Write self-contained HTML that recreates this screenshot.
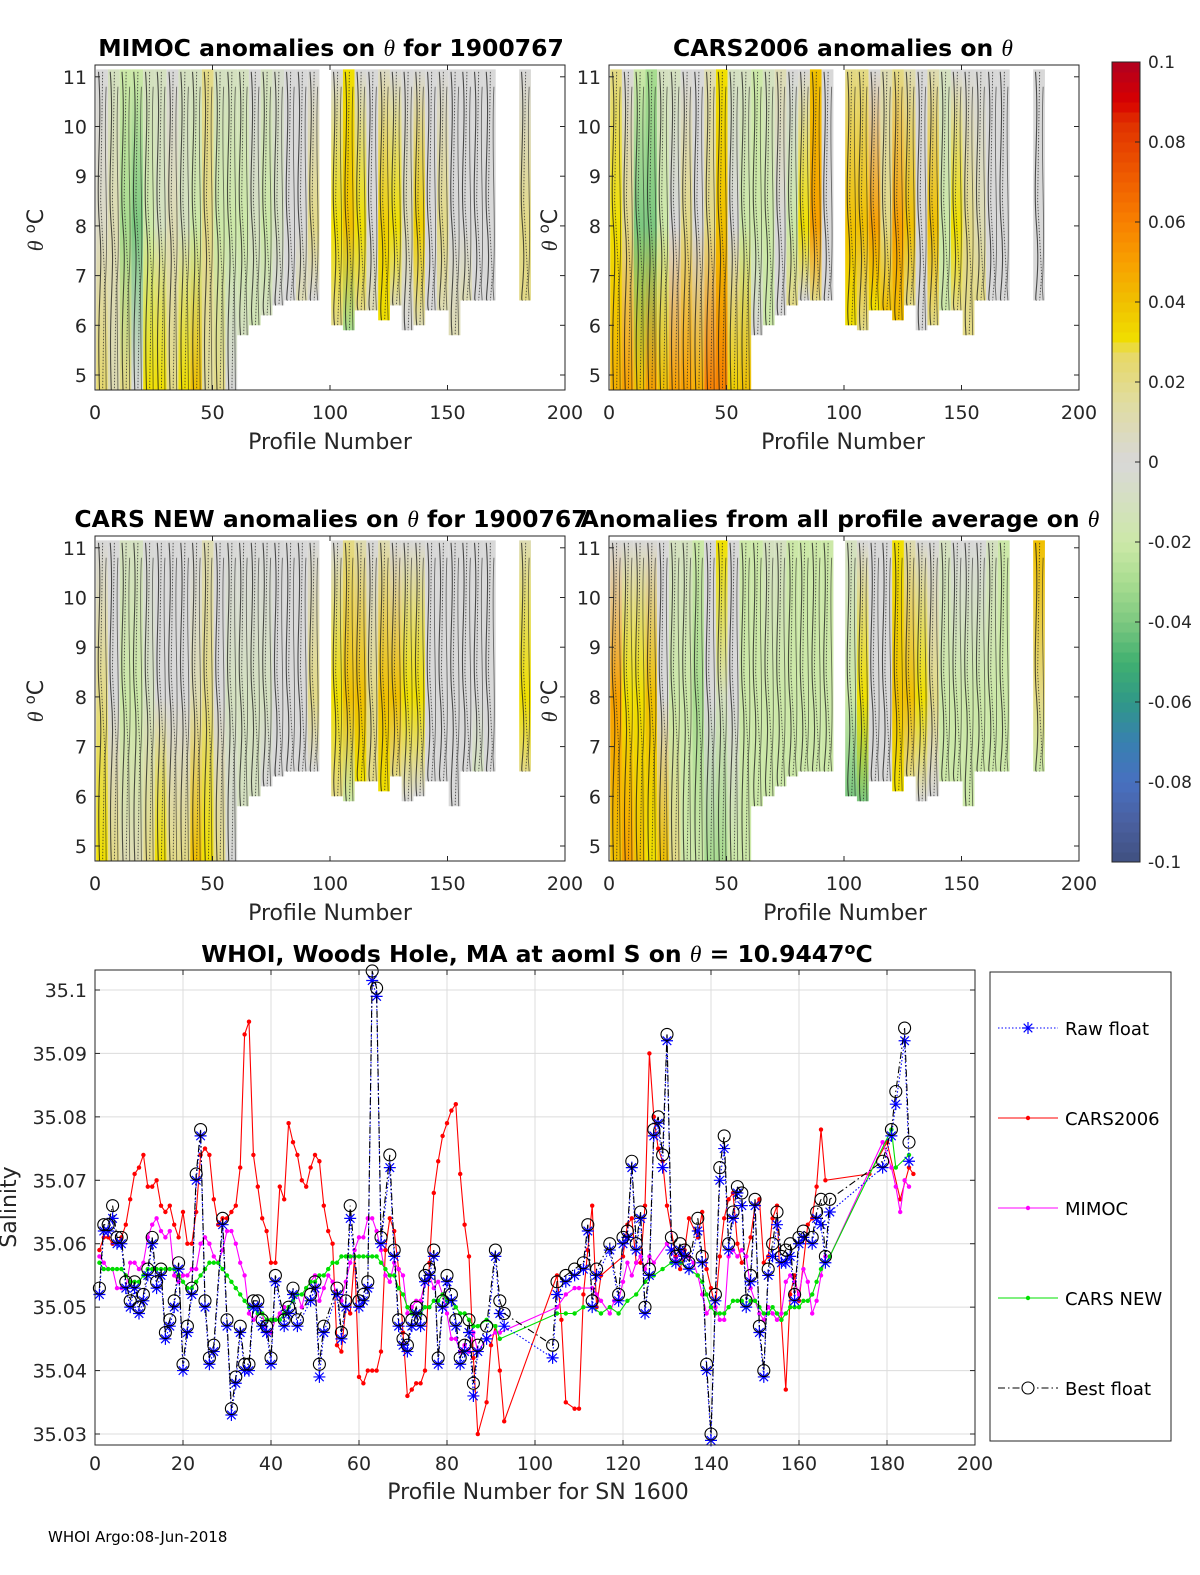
<!DOCTYPE html>
<html><head><meta charset="utf-8"><style>
html,body{margin:0;padding:0;background:#fff;}
svg{display:block;font-family:"DejaVu Sans","Liberation Sans",sans-serif;}
</style></head><body>
<svg id="fig" width="1200" height="1575" viewBox="0 0 1200 1575" xmlns="http://www.w3.org/2000/svg">
<rect width="1200" height="1575" fill="#fff"/>
<g id="panels"></g>
<g id="cbar"></g>
<g id="bottom"></g>
<text x="48" y="1542" font-size="15" fill="#000">WHOI Argo:08-Jun-2018</text>
</svg>
<script>
// ---------- heatmap data (bins of 5 profiles; null = no data) ----------
const binBottom = [4.7,4.7,4.7,4.7,4.7,4.7,4.7,4.7,4.7,4.7,4.7,4.7,5.8,6.0,6.2,6.4,6.5,6.5,6.5,null,6.0,5.9,6.3,6.3,6.1,6.4,5.9,6.0,6.3,6.3,5.8,6.5,6.5,6.5,null,null,6.5,null];
const mimocLow  = [0.025,0.01,0.02,0.0,0.03,0.03,0.02,0.03,0.04,0.015,0.02,0.0,-0.01,-0.015,-0.01,0.0,0.0,0.01,0.0,null,0.02,-0.03,0.02,0.01,0.03,0.01,0.0,0.01,0.0,0.01,0.01,0.01,0.0,0.0,null,null,0.02,null];
const mimocMid  = [0.005,0.01,-0.03,-0.04,-0.02,-0.01,0.01,-0.01,-0.02,0.02,-0.02,-0.02,-0.02,-0.01,-0.02,-0.01,0.0,0.0,0.02,null,0.03,0.04,0.03,0.0,0.035,0.03,0.01,0.035,0.0,0.02,0.0,0.0,0.0,0.0,null,null,0.02,null];
const mimocHigh = [0.0,-0.01,-0.02,-0.02,-0.01,-0.01,0.0,-0.01,-0.01,0.02,-0.01,-0.01,-0.01,0.0,-0.01,-0.005,0.0,0.0,0.0,null,0.0,0.03,0.0,0.0,0.005,0.0,0.0,0.0,0.0,0.0,0.0,0.0,0.0,0.0,null,null,0.0,null];
const carsLow  = [0.045,0.05,0.04,0.05,0.04,0.05,0.05,0.045,0.06,0.06,0.035,0.04,0.0,-0.02,0.0,0.02,0.0,0.02,0.0,null,0.03,0.02,0.03,0.04,0.04,0.02,0.0,0.02,-0.02,0.02,0.02,0.02,0.0,0.0,null,null,0.0,null];
const carsMid  = [0.03,0.02,-0.04,-0.04,-0.02,0.0,0.02,0.0,0.02,0.04,0.0,-0.02,-0.02,-0.02,0.0,-0.02,0.03,0.05,0.0,null,0.04,0.04,0.05,0.02,0.05,0.04,0.0,0.04,-0.02,0.03,0.02,0.01,0.0,0.0,null,null,0.0,null];
const carsHigh = [0.02,0.0,-0.02,-0.03,-0.01,-0.01,0.0,0.0,0.01,0.03,-0.01,-0.01,-0.02,-0.01,0.01,0.0,0.0,0.04,0.0,null,0.02,0.02,0.0,0.01,0.02,0.01,0.0,0.01,-0.01,0.0,0.0,0.0,0.0,0.0,null,null,0.0,null];
const newLow  = [0.03,0.02,0.01,0.01,0.02,0.03,0.02,0.02,0.04,0.03,0.02,0.0,-0.01,-0.01,0.0,0.0,0.0,0.0,0.0,null,0.02,-0.02,0.03,0.02,0.03,0.02,0.0,0.0,0.0,0.0,0.0,0.0,-0.01,0.0,null,null,0.02,null];
const newMid  = [0.02,0.0,-0.02,-0.02,-0.01,0.0,0.0,0.0,0.01,0.02,0.0,-0.01,-0.01,-0.01,-0.01,0.0,0.0,0.0,0.02,null,0.03,0.04,0.04,0.02,0.04,0.04,0.03,0.03,0.0,0.0,0.0,0.0,0.0,0.0,null,null,0.03,null];
const newHigh = [0.0,0.0,-0.01,-0.01,0.0,0.0,0.0,0.0,0.0,0.01,0.0,0.0,0.0,0.0,0.0,0.0,0.0,0.0,0.0,null,0.0,0.02,0.01,0.0,0.01,0.0,0.0,0.0,0.0,0.0,0.0,0.0,0.0,0.0,null,null,0.01,null];
const avgLow  = [0.04,0.05,0.04,0.03,0.04,0.02,-0.02,-0.02,-0.03,-0.03,-0.02,-0.02,-0.02,-0.02,-0.02,-0.02,-0.02,-0.02,-0.02,null,-0.04,-0.04,0.0,0.0,0.03,0.02,0.0,0.0,-0.02,-0.02,-0.02,-0.02,-0.02,-0.02,null,null,-0.02,null];
const avgMid  = [0.05,0.03,0.03,0.04,0.0,-0.02,-0.02,-0.03,0.0,-0.01,0.0,-0.02,-0.02,-0.02,-0.02,-0.02,-0.02,-0.02,-0.02,null,-0.02,0.03,0.0,0.0,0.04,0.04,0.03,0.02,-0.02,-0.02,-0.02,-0.02,-0.02,-0.02,null,null,0.02,null];
const avgHigh = [0.0,0.0,0.0,0.0,0.0,-0.01,-0.01,-0.02,0.0,0.03,0.0,-0.02,-0.02,-0.01,-0.01,-0.02,-0.02,-0.02,-0.02,null,-0.01,0.0,0.0,0.0,0.03,0.01,0.0,0.0,-0.01,0.0,0.0,0.0,-0.01,-0.02,null,null,0.04,null];
const profTicks = [0,50,100,150,200];
const thetaTicks = [5,6,7,8,9,10,11];
const cbarTicks = [0.1,0.08,0.06,0.04,0.02,0,-0.02,-0.04,-0.06,-0.08,-0.1];

// ---------- salinity data ----------
const rawP = [1,2,3,4,5,6,7,8,9,10,11,12,13,14,15,16,17,18,19,20,21,22,23,24,25,26,27,29,30,31,32,33,34,35,36,37,38,39,40,41,43,44,45,46,49,50,51,52,55,56,57,58,60,61,62,63,64,65,67,68,69,70,71,72,73,74,75,76,77,78,79,80,81,82,83,84,85,86,87,89,91,92,93,104,105,107,109,111,112,113,114,117,119,120,121,122,123,124,125,126,127,128,129,130,131,132,133,134,135,137,138,139,140,141,142,143,144,145,146,147,148,149,150,151,152,153,154,155,156,157,158,159,160,161,163,164,165,166,167,179,181,182,184,185];
const rawV = [35.052,35.062,35.062,35.064,35.060,35.060,35.053,35.050,35.053,35.049,35.051,35.055,35.060,35.053,35.055,35.045,35.047,35.050,35.056,35.040,35.046,35.052,35.070,35.077,35.050,35.041,35.043,35.063,35.047,35.033,35.038,35.046,35.040,35.040,35.050,35.050,35.047,35.046,35.041,35.054,35.047,35.049,35.052,35.047,35.051,35.053,35.039,35.046,35.052,35.045,35.050,35.064,35.050,35.051,35.053,35.1015,35.099,35.060,35.072,35.058,35.047,35.044,35.043,35.047,35.049,35.047,35.054,35.055,35.058,35.041,35.050,35.054,35.051,35.047,35.041,35.043,35.046,35.036,35.043,35.045,35.058,35.049,35.047,35.042,35.052,35.054,35.055,35.056,35.062,35.050,35.055,35.059,35.051,35.060,35.061,35.072,35.059,35.064,35.049,35.055,35.077,35.079,35.072,35.092,35.059,35.057,35.059,35.058,35.056,35.062,35.057,35.040,35.029,35.051,35.070,35.075,35.059,35.064,35.068,35.066,35.050,35.054,35.066,35.046,35.039,35.055,35.058,35.063,35.057,35.057,35.058,35.051,35.060,35.061,35.060,35.064,35.063,35.057,35.065,35.072,35.077,35.082,35.092,35.073];
const bestV = [35.053,35.063,35.063,35.066,35.061,35.061,35.054,35.051,35.054,35.050,35.052,35.056,35.061,35.054,35.056,35.046,35.048,35.051,35.057,35.041,35.047,35.053,35.071,35.078,35.051,35.042,35.044,35.064,35.048,35.034,35.039,35.047,35.041,35.041,35.051,35.051,35.048,35.047,35.042,35.055,35.048,35.050,35.053,35.048,35.052,35.054,35.041,35.047,35.053,35.046,35.051,35.066,35.051,35.052,35.054,35.103,35.1003,35.061,35.074,35.059,35.048,35.045,35.044,35.048,35.050,35.048,35.055,35.056,35.059,35.042,35.051,35.055,35.052,35.048,35.042,35.044,35.048,35.038,35.044,35.047,35.059,35.051,35.049,35.044,35.054,35.055,35.056,35.057,35.063,35.051,35.056,35.060,35.052,35.061,35.062,35.073,35.060,35.065,35.050,35.056,35.078,35.080,35.074,35.093,35.061,35.058,35.060,35.059,35.057,35.064,35.058,35.041,35.030,35.052,35.072,35.077,35.060,35.065,35.069,35.068,35.051,35.055,35.067,35.047,35.040,35.056,35.060,35.065,35.058,35.059,35.060,35.052,35.061,35.062,35.061,35.065,35.067,35.058,35.067,35.073,35.078,35.084,35.094,35.076];
const carsP = [1,2,3,4,5,6,7,8,9,10,11,12,13,14,15,16,17,18,19,20,21,22,23,24,25,26,27,28,29,30,31,32,33,34,35,36,37,38,39,40,41,42,43,44,45,46,47,48,49,50,51,52,53,54,55,56,57,58,59,60,61,62,63,64,65,66,67,68,69,70,71,72,73,74,75,76,77,78,79,80,81,82,83,84,85,86,87,89,90,91,92,93,105,106,107,109,110,111,112,113,114,115,120,121,122,123,124,125,126,127,128,129,130,132,133,134,135,137,138,139,140,141,142,143,144,145,146,147,148,149,150,151,152,153,154,155,156,157,158,159,160,162,163,164,165,166,176,180,183,185,186];
const carsV = [35.059,35.061,35.061,35.060,35.060,35.061,35.063,35.067,35.071,35.072,35.074,35.069,35.069,35.070,35.066,35.065,35.066,35.063,35.061,35.065,35.060,35.060,35.065,35.074,35.075,35.074,35.067,35.063,35.064,35.064,35.065,35.066,35.072,35.093,35.095,35.074,35.069,35.064,35.062,35.057,35.057,35.069,35.067,35.079,35.076,35.074,35.070,35.069,35.072,35.074,35.073,35.066,35.062,35.060,35.044,35.043,35.050,35.049,35.058,35.039,35.038,35.040,35.040,35.040,35.043,35.059,35.064,35.062,35.056,35.046,35.036,35.037,35.038,35.038,35.040,35.057,35.068,35.073,35.077,35.079,35.081,35.082,35.071,35.063,35.058,35.042,35.030,35.035,35.044,35.047,35.040,35.032,35.055,35.048,35.035,35.034,35.034,35.052,35.059,35.066,35.050,35.055,35.058,35.063,35.064,35.057,35.057,35.066,35.090,35.080,35.075,35.073,35.066,35.058,35.056,35.059,35.064,35.061,35.065,35.056,35.053,35.050,35.058,35.064,35.067,35.068,35.060,35.057,35.058,35.061,35.066,35.067,35.057,35.058,35.064,35.066,35.048,35.037,35.052,35.055,35.051,35.063,35.064,35.069,35.078,35.070,35.071,35.076,35.067,35.072,35.071];
const mimP = [1,2,3,4,5,6,7,8,9,10,11,12,13,14,15,16,17,18,19,20,21,22,23,24,25,26,27,28,29,30,31,32,33,34,35,36,37,38,39,40,41,42,43,44,45,46,47,48,49,50,51,52,53,54,55,56,57,58,59,60,61,62,63,64,65,66,67,68,69,70,71,72,73,74,75,76,77,78,79,80,81,82,83,84,85,86,87,89,91,92,105,107,109,110,113,114,115,117,118,119,120,121,122,123,124,125,126,127,130,131,132,133,134,135,136,137,138,139,140,141,142,143,144,145,146,147,148,149,150,151,152,153,154,155,156,157,158,159,160,161,162,163,164,165,166,167,179,181,182,183,184,185];
const mimV = [35.058,35.057,35.056,35.056,35.053,35.053,35.053,35.057,35.057,35.056,35.057,35.061,35.063,35.064,35.062,35.061,35.062,35.055,35.054,35.055,35.055,35.056,35.056,35.060,35.061,35.060,35.058,35.057,35.059,35.062,35.062,35.060,35.057,35.055,35.049,35.048,35.049,35.049,35.046,35.046,35.048,35.049,35.050,35.050,35.051,35.052,35.050,35.053,35.054,35.055,35.051,35.053,35.055,35.054,35.052,35.051,35.054,35.057,35.059,35.061,35.061,35.064,35.064,35.062,35.059,35.055,35.054,35.057,35.056,35.055,35.049,35.050,35.051,35.051,35.054,35.055,35.053,35.054,35.052,35.049,35.045,35.045,35.043,35.044,35.043,35.046,35.043,35.045,35.046,35.046,35.050,35.052,35.053,35.053,35.053,35.052,35.051,35.049,35.051,35.051,35.054,35.057,35.055,35.057,35.058,35.056,35.058,35.057,35.060,35.059,35.057,35.059,35.058,35.058,35.057,35.055,35.052,35.049,35.050,35.050,35.048,35.048,35.058,35.059,35.058,35.059,35.058,35.053,35.051,35.049,35.048,35.050,35.049,35.048,35.049,35.054,35.055,35.054,35.052,35.056,35.054,35.049,35.051,35.055,35.058,35.058,35.076,35.072,35.069,35.065,35.070,35.069];
const newP = [1,2,3,4,5,6,7,8,9,10,11,12,13,14,15,16,17,18,19,20,21,22,23,24,25,26,27,28,29,30,31,32,33,34,35,36,37,38,39,40,41,42,43,44,45,46,47,48,49,50,51,52,53,54,55,56,57,58,59,60,61,62,63,64,65,66,67,68,69,70,71,72,73,74,75,76,77,78,79,80,81,82,83,84,85,86,87,89,91,92,105,107,109,111,113,115,117,119,121,123,125,127,129,131,133,135,137,138,139,140,141,142,143,144,145,146,147,148,149,150,151,152,153,154,155,156,157,158,159,160,161,162,163,164,165,166,167,181,182,185];
const newV = [35.057,35.056,35.056,35.056,35.056,35.056,35.055,35.054,35.054,35.054,35.055,35.056,35.056,35.056,35.056,35.056,35.056,35.056,35.055,35.054,35.053,35.053,35.054,35.055,35.056,35.057,35.057,35.057,35.056,35.055,35.054,35.053,35.052,35.051,35.050,35.050,35.049,35.049,35.048,35.048,35.048,35.048,35.049,35.050,35.051,35.052,35.052,35.053,35.054,35.054,35.055,35.055,35.056,35.057,35.057,35.058,35.058,35.058,35.058,35.058,35.058,35.058,35.058,35.058,35.057,35.056,35.055,35.055,35.053,35.052,35.050,35.049,35.049,35.049,35.050,35.050,35.051,35.051,35.052,35.051,35.051,35.050,35.049,35.049,35.048,35.047,35.047,35.048,35.047,35.045,35.049,35.049,35.049,35.050,35.050,35.049,35.050,35.049,35.051,35.052,35.054,35.055,35.056,35.057,35.057,35.056,35.055,35.054,35.052,35.050,35.049,35.049,35.049,35.050,35.051,35.051,35.051,35.050,35.051,35.051,35.050,35.049,35.049,35.050,35.049,35.048,35.049,35.050,35.050,35.050,35.051,35.051,35.052,35.054,35.056,35.057,35.058,35.078,35.072,35.074];
const salTicks = [35.03,35.04,35.05,35.06,35.07,35.08,35.09,35.1];
const salXTicks = [0,20,40,60,80,100,120,140,160,180,200];

// ---------- helpers ----------
const NS = "http://www.w3.org/2000/svg";
function mk(tag, attrs, parent){ const e=document.createElementNS(NS,tag); for(const k in attrs) e.setAttribute(k,attrs[k]); if(parent) parent.appendChild(e); return e; }
const cstops = [[-0.1,[64,80,128]],[-0.09,[74,96,160]],[-0.08,[72,112,192]],[-0.07,[56,128,176]],[-0.06,[48,152,136]],[-0.05,[64,176,112]],[-0.04,[124,200,128]],[-0.03,[168,220,144]],[-0.02,[204,232,168]],[-0.01,[212,224,192]],[0,[216,216,216]],[0.015,[224,220,160]],[0.028,[232,216,96]],[0.03,[240,224,0]],[0.04,[240,192,0]],[0.05,[248,160,0]],[0.06,[248,128,0]],[0.07,[240,96,0]],[0.085,[224,48,0]],[0.09,[216,0,0]],[0.1,[176,0,32]]];
function cmap(v){ v=Math.max(-0.1,Math.min(0.1,v)); for(let i=0;i<cstops.length-1;i++){ const a=cstops[i],b=cstops[i+1]; if(v>=a[0]&&v<=b[0]){ const t=(v-a[0])/(b[0]-a[0]); const c=a[1].map((x,j)=>Math.round(x+(b[1][j]-x)*t)); return `rgb(${c[0]},${c[1]},${c[2]})`; } } return "rgb(216,216,216)"; }

const svg = document.getElementById('fig');
const defs = mk('defs',{},svg);
const panelsG = document.getElementById('panels');

function panel(name, left, top, low, mid, high, xlabelX){
  const right = left+470, bottom = top+325;
  const xs = p => left + p*(470/200);
  const ys = t => (top+310) - (t-5)*49.7;
  const g = mk('g',{},panelsG);
  
  
  for(let i=0;i<binBottom.length;i++){
    if(binBottom[i]===null) continue;
    const id = name+'-g'+i;
    const lg = mk('linearGradient',{id:id,gradientUnits:'userSpaceOnUse',x1:0,x2:0,y1:ys(binBottom[i]),y2:ys(11.15)},defs);
    const f = (8-binBottom[i])/(11.15-binBottom[i]);
    mk('stop',{offset:0,'stop-color':cmap(low[i])},lg);
    mk('stop',{offset:f,'stop-color':cmap(mid[i])},lg);
    mk('stop',{offset:1,'stop-color':cmap(high[i])},lg);
    const x0 = xs(i*5+0.5), x1 = xs(i*5+5.5);
    const r = mk('rect',{x:x0,y:ys(11.15),width:x1-x0,height:ys(binBottom[i])-ys(11.15),fill:`url(#${id})`},g);
    
    
    // contour-like texture lines
    const w=x1-x0, lx = x0+w*0.2, lx2 = x0+w*0.55, lx3 = x0+w*0.85, b=ys(binBottom[i]);
    mk('path',{d:`M${lx},${ys(11.1)} C${lx+4},${ys(10)} ${lx-3},${ys(9)} ${lx+1},${ys(8)} S${lx-2},${ys(6.5)} ${lx+1},${b}`,stroke:'#1a1a1a',fill:'none','stroke-width':1.1,opacity:0.75},g);
    mk('path',{d:`M${lx2},${ys(11.1)} L${lx2-2},${ys(8.5)} L${lx2+2},${ys(7)} L${lx2},${b}`,stroke:'#222',fill:'none','stroke-width':1,'stroke-dasharray':'1.5 1.5',opacity:0.7},g);
    mk('path',{d:`M${lx3},${ys(10.8)} C${lx3-3},${ys(9.5)} ${lx3+3},${ys(8)} ${lx3-1},${ys(6.8)} L${lx3},${b}`,stroke:'#1a1a1a',fill:'none','stroke-width':0.9,opacity:0.6},g);
  }
  mk('rect',{x:left,y:top,width:470,height:325,fill:'none',stroke:'#262626','stroke-width':1},g);
  profTicks.forEach(p=>{
    mk('line',{x1:xs(p),x2:xs(p),y1:bottom,y2:bottom-5,stroke:'#262626'},g);
    mk('line',{x1:xs(p),x2:xs(p),y1:top,y2:top+5,stroke:'#262626'},g);
    const t=mk('text',{x:xs(p),y:bottom+29,'font-size':19,'text-anchor':'middle',fill:'#262626'},g); t.textContent=p;
     
  });
  thetaTicks.forEach(v=>{
    mk('line',{x1:left,x2:left+5,y1:ys(v),y2:ys(v),stroke:'#262626'},g);
    mk('line',{x1:right,x2:right-5,y1:ys(v),y2:ys(v),stroke:'#262626'},g);
    const t=mk('text',{x:left-8,y:ys(v)+7,'font-size':19,'text-anchor':'end',fill:'#262626'},g); t.textContent=v;
     
  });
  const xl=mk('text',{x:xlabelX,y:bottom+59,'font-size':22,'text-anchor':'middle',fill:'#262626'},g); xl.textContent='Profile Number';
   
  const yl=mk('text',{x:0,y:0,'font-size':22,'text-anchor':'middle',fill:'#262626',transform:`translate(${left-52},${top+165}) rotate(-90)`},g);
  yl.innerHTML='<tspan font-family="Liberation Serif" font-style="italic">θ</tspan> <tspan dy="-8" font-size="15">o</tspan><tspan dy="8">C</tspan>';
   
}
panel('mimoc-panel',95,65,mimocLow,mimocMid,mimocHigh,330);
panel('cars2006-panel',609,65,carsLow,carsMid,carsHigh,843);
panel('cars-new-panel',95,536,newLow,newMid,newHigh,330);
panel('average-panel',609,536,avgLow,avgMid,avgHigh,845);

function title(x,y,html,name){ const t=mk('text',{x:x,y:y,'font-size':23.5,'font-weight':'bold','text-anchor':'middle',fill:'#000'},svg); t.innerHTML=html;   }
const TH='<tspan font-family="Liberation Serif" font-style="italic" font-weight="normal">θ</tspan>';
title(331,56,'MIMOC anomalies on '+TH+'  for 1900767','mimoc-title');
title(843,56,'CARS2006 anomalies on '+TH,'cars2006-title');
title(331,527,'CARS NEW anomalies on '+TH+' for 1900767','cars-new-title');
title(840,527,'Anomalies from all profile average on '+TH,'average-title');

// colorbar
const cb = document.getElementById('cbar');
const cy = v => 462 - v*4000;
for(let v=-0.1; v<0.1-1e-9; v+=0.0025){
  mk('rect',{x:1112,y:cy(v+0.0025),width:28,height:10.5,fill:cmap(v+0.00125)},cb);
}
mk('rect',{x:1112,y:62,width:28,height:800,fill:'none',stroke:'#262626'},cb);
cbarTicks.forEach(v=>{
  mk('line',{x1:1135,x2:1140,y1:cy(v),y2:cy(v),stroke:'#262626'},cb);
  const t=mk('text',{x:1148,y:cy(v)+6,'font-size':17,fill:'#262626'},cb); t.textContent=String(v);
   
});

// ---------- bottom chart ----------
const bg = document.getElementById('bottom');
const bx = p => 95 + p*4.4;
const by = v => 990 + (35.1-v)*6343;
mk('rect',{x:95,y:970,width:880,height:475,fill:'#fff'},bg);
salXTicks.forEach(p=>{ mk('line',{x1:bx(p),x2:bx(p),y1:970,y2:1445,stroke:'#dcdcdc'},bg); });
salTicks.forEach(v=>{ mk('line',{x1:95,x2:975,y1:by(v),y2:by(v),stroke:'#dcdcdc'},bg); });
function series(P,V,color,dash,marker,name){
  const g=mk('g',{},bg);
  
  
  const d=P.map((p,i)=>(i?'L':'M')+bx(p).toFixed(1)+','+by(V[i]).toFixed(1)).join(' ');
  const a={d:d,fill:'none',stroke:color,'stroke-width':1.1};
  if(dash) a['stroke-dasharray']=dash;
  mk('path',a,g);
  P.forEach((p,i)=>{
    const x=bx(p),y=by(V[i]);
    let m;
    if(marker==='dot') m=mk('circle',{cx:x,cy:y,r:2.2,fill:color},g);
    else if(marker==='star') m=mk('path',{d:`M${x-6},${y}H${x+6}M${x},${y-6}V${y+6}M${x-4.3},${y-4.3}L${x+4.3},${y+4.3}M${x-4.3},${y+4.3}L${x+4.3},${y-4.3}`,stroke:color,'stroke-width':1.2},g);
    else m=mk('circle',{cx:x,cy:y,r:6,fill:'none',stroke:color,'stroke-width':1.1},g);
    
    
  });
}
series(carsP,carsV,'#ff0000',null,'dot','cars2006-series');
series(mimP,mimV,'#ff00ff',null,'dot','mimoc-series');
series(newP,newV,'#00e000',null,'dot','cars-new-series');
series(rawP,rawV,'#0000ff','1.5 2','star','raw-float-series');
series(rawP,bestV,'#000000','7 3 1.5 3','circle','best-float-series');
mk('rect',{x:95,y:970,width:880,height:475,fill:'none',stroke:'#262626'},bg);
salXTicks.forEach(p=>{
  mk('line',{x1:bx(p),x2:bx(p),y1:1445,y2:1440,stroke:'#262626'},bg);
  mk('line',{x1:bx(p),x2:bx(p),y1:970,y2:975,stroke:'#262626'},bg);
  const t=mk('text',{x:bx(p),y:1470,'font-size':19,'text-anchor':'middle',fill:'#262626'},bg); t.textContent=p;
   
});
salTicks.forEach(v=>{
  mk('line',{x1:95,x2:100,y1:by(v),y2:by(v),stroke:'#262626'},bg);
  mk('line',{x1:975,x2:970,y1:by(v),y2:by(v),stroke:'#262626'},bg);
  const t=mk('text',{x:87,y:by(v)+7,'font-size':19,'text-anchor':'end',fill:'#262626'},bg); t.textContent=(v===35.1?'35.1':v.toFixed(2));
   
});
const sxl=mk('text',{x:538,y:1499,'font-size':22,'text-anchor':'middle',fill:'#262626'},bg); sxl.textContent='Profile Number for SN 1600';
 
const syl=mk('text',{x:0,y:0,'font-size':22,'text-anchor':'middle',fill:'#262626',transform:'translate(16,1207) rotate(-90)'},bg); syl.textContent='Salinity';
 
const st=mk('text',{x:537,y:962,'font-size':23.5,'font-weight':'bold','text-anchor':'middle',fill:'#000'},bg);
st.innerHTML='WHOI, Woods Hole, MA at aoml S on '+TH+' = 10.9447<tspan dy="-8" font-size="16">o</tspan><tspan dy="8">C</tspan>';
 

// legend
const lgG = mk('g',{},bg);


mk('rect',{x:990,y:972,width:181,height:469,fill:'#fff',stroke:'#262626'},lgG);
const legNames = ['Raw float','CARS2006','MIMOC','CARS NEW','Best float'];
const legColors = ['#0000ff','#ff0000','#ff00ff','#00e000','#000000'];
const legDash = ['1.5 2',null,null,null,'7 3 1.5 3'];
const legMark = ['star','dot','dot','dot','circle'];
legNames.forEach((n,i)=>{
  const y = 1028 + i*90;
  const e = mk('g',{},lgG);
  
  
  const a={x1:998,x2:1058,y1:y,y2:y,stroke:legColors[i],'stroke-width':1.1}; if(legDash[i]) a['stroke-dasharray']=legDash[i];
  mk('line',a,e);
  const x=1028;
  if(legMark[i]==='dot') mk('circle',{cx:x,cy:y,r:2.2,fill:legColors[i]},e);
  else if(legMark[i]==='star') mk('path',{d:`M${x-6},${y}H${x+6}M${x},${y-6}V${y+6}M${x-4.3},${y-4.3}L${x+4.3},${y+4.3}M${x-4.3},${y+4.3}L${x+4.3},${y-4.3}`,stroke:legColors[i],'stroke-width':1.2},e);
  else mk('circle',{cx:x,cy:y,r:6,fill:'#fff',stroke:'#000','stroke-width':1.1},e);
  const t=mk('text',{x:1065,y:y+7,'font-size':18,fill:'#000'},e); t.textContent=n;
});
</script>
</body></html>
